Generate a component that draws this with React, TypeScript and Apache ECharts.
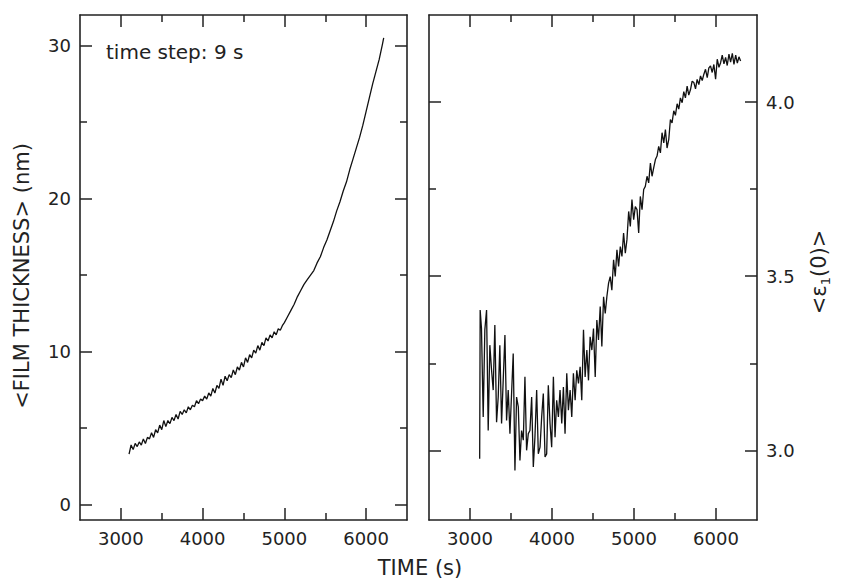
import React, { useEffect, useRef } from "react";
import * as echarts from "echarts";

const leftTime = [
  3100, 3125, 3150, 3175, 3200, 3225, 3250, 3275, 3300, 3325, 3350, 3375, 3400, 3425, 3450, 3475,
  3500, 3525, 3550, 3575, 3600, 3625, 3650, 3675, 3700, 3725, 3750, 3775, 3800, 3825, 3850, 3875,
  3900, 3925, 3950, 3975, 4000, 4025, 4050, 4075, 4100, 4125, 4150, 4175, 4200, 4225, 4250, 4275,
  4300, 4325, 4350, 4375, 4400, 4425, 4450, 4475, 4500, 4525, 4550, 4575, 4600, 4625, 4650, 4675,
  4700, 4725, 4750, 4775, 4800, 4825, 4850, 4875, 4900, 4925, 4950, 4975, 5000,
  5040, 5080, 5120, 5160, 5200, 5240, 5280, 5320, 5360, 5400, 5440, 5480, 5520, 5560, 5600, 5640,
  5680, 5720, 5760, 5800, 5840, 5880, 5920, 5960, 6000, 6040, 6080, 6120, 6160, 6200, 6215,
];
const leftThickness = [
  3.3, 3.9, 3.6, 4.0, 3.8, 4.1, 3.9, 4.3, 4.0, 4.4, 4.3, 4.7, 4.4, 4.9, 4.7, 5.2,
  4.9, 5.5, 5.1, 5.5, 5.3, 5.7, 5.5, 5.9, 5.6, 6.1, 5.9, 6.2, 6.0, 6.4, 6.2, 6.5,
  6.4, 6.8, 6.6, 6.9, 6.8, 7.1, 6.9, 7.3, 7.1, 7.6, 7.3, 7.8, 7.6, 8.2, 7.8, 8.4,
  8.1, 8.5, 8.3, 8.8, 8.5, 9.0, 8.8, 9.3, 9.0, 9.6, 9.3, 9.8, 9.6, 10.1, 9.9, 10.4,
  10.1, 10.6, 10.4, 10.9, 10.7, 11.1, 10.9, 11.3, 11.1, 11.5, 11.4, 11.7, 11.9,
  12.3, 12.7, 13.1, 13.6, 14.0, 14.4, 14.7, 15.0, 15.3, 15.8, 16.2, 16.8, 17.3, 17.9, 18.5, 19.2,
  19.8, 20.5, 21.1, 21.9, 22.6, 23.3, 24.0, 24.8, 25.7, 26.6, 27.5, 28.3, 29.1, 30.1, 30.5,
];

const rightTime = [
  3118, 3124, 3140, 3161, 3181, 3202, 3222, 3242, 3263, 3283, 3303, 3324, 3344, 3364, 3385, 3405,
  3426, 3446, 3466, 3487, 3507, 3527, 3548, 3568, 3589, 3609, 3629, 3650, 3670, 3690, 3711, 3731,
  3752, 3772, 3792, 3813, 3833, 3854, 3874, 3894, 3915, 3935, 3955, 3976, 3996, 4017, 4037, 4057,
  4078, 4098, 4119, 4139, 4159, 4180, 4200, 4221, 4241, 4261, 4282, 4302, 4323, 4343, 4363, 4384,
  4404, 4425, 4445, 4465, 4486, 4506, 4527, 4547, 4567, 4588, 4608, 4629, 4649, 4669, 4690, 4710,
  4730, 4751, 4771, 4792, 4812, 4833, 4853, 4873, 4894, 4914, 4935, 4955, 4975, 4996, 5016, 5037,
  5057, 5077, 5098, 5118, 5138, 5159, 5179, 5200, 5220, 5240, 5261, 5281, 5301, 5322, 5342, 5363,
  5383, 5403, 5424, 5444, 5464, 5485, 5505, 5526, 5546, 5566, 5587, 5607, 5627, 5648, 5668, 5689,
  5709, 5730, 5750, 5770, 5791, 5811, 5832, 5852, 5872, 5893, 5913, 5933, 5954, 5974, 5995, 6015,
  6036, 6056, 6076, 6097, 6117, 6137, 6158, 6178, 6199, 6219, 6240, 6260, 6280, 6300,
];
const rightEps = [
  2.976, 3.403, 3.350, 3.096, 3.346, 3.403, 3.057, 3.302, 3.230, 3.173, 3.360, 3.081, 3.153, 3.302, 3.077, 3.201,
  3.331, 3.086, 3.173, 3.048, 3.163, 3.278, 2.942, 3.153, 3.125, 2.971, 3.057, 3.029, 3.211, 3.000, 3.048, 3.057,
  3.153, 2.952, 3.038, 3.173, 2.990, 3.009, 3.096, 3.163, 2.981, 2.990, 3.187, 3.077, 3.009, 3.211, 3.038, 3.144,
  3.096, 3.173, 3.077, 3.182, 3.048, 3.221, 3.115, 3.173, 3.096, 3.221, 3.144, 3.230, 3.192, 3.240, 3.144, 3.346,
  3.211, 3.288, 3.201, 3.326, 3.288, 3.350, 3.211, 3.374, 3.317, 3.413, 3.298, 3.441, 3.393, 3.441, 3.480, 3.499,
  3.460, 3.547, 3.499, 3.576, 3.528, 3.585, 3.557, 3.624, 3.566, 3.605, 3.686, 3.643, 3.720, 3.662, 3.700, 3.691,
  3.624, 3.729, 3.691, 3.749, 3.758, 3.787, 3.768, 3.825, 3.787, 3.811, 3.835, 3.845, 3.873, 3.854, 3.912, 3.883,
  3.921, 3.868, 3.893, 3.950, 3.940, 3.975, 3.962, 3.995, 3.980, 4.012, 3.998, 4.030, 4.012, 4.046, 4.020, 4.036,
  4.060, 4.056, 4.038, 4.065, 4.050, 4.075, 4.062, 4.080, 4.094, 4.070, 4.098, 4.104, 4.085, 4.108, 4.066, 4.123,
  4.100, 4.113, 4.135, 4.110, 4.128, 4.105, 4.138, 4.115, 4.140, 4.108, 4.135, 4.112, 4.130, 4.118,
];

const xMajorTicks = [3000, 4000, 5000, 6000];
const xMinorTicks = [3500, 4500, 5500];
const thickMajorTicks = [0, 10, 20, 30];
const thickMinorTicks = [5, 15, 25];
const epsMajorTicks = [3.0, 3.5, 4.0];
const epsMinorTicks = [3.25, 3.75];

const FONT = "DejaVu Sans";
const AX = "#222";
const MAJOR_LEN = 12;
const MINOR_LEN = 7;

function xAxisDef(grid: number, position: string, ticks: number[], len: number, showLine: boolean, labels?: number[]) {
  return {
    type: "value",
    gridIndex: grid,
    position,
    min: 2500,
    max: 6500,
    axisLine: { show: showLine, onZero: false, lineStyle: { color: AX, width: 1.6 } },
    axisTick: { show: true, inside: true, length: len, customValues: ticks, lineStyle: { color: AX, width: 1.5 } },
    axisLabel: labels
      ? {
          show: true,
          customValues: labels,
          margin: 9,
          color: "#222",
          fontSize: 18,
          fontFamily: FONT,
          formatter: (v: number) => String(v),
        }
      : { show: false },
    splitLine: { show: false },
  };
}

function yAxisDef(
  grid: number,
  position: string,
  min: number,
  max: number,
  ticks: number[],
  len: number,
  showLine: boolean,
  labels?: number[],
  fmt?: (v: number) => string
) {
  return {
    type: "value",
    gridIndex: grid,
    position,
    min,
    max,
    axisLine: { show: showLine, onZero: false, lineStyle: { color: AX, width: 1.6 } },
    axisTick: { show: true, inside: true, length: len, customValues: ticks, lineStyle: { color: AX, width: 1.5 } },
    axisLabel: labels
      ? { show: true, customValues: labels, margin: 9, color: "#222", fontSize: 18, fontFamily: FONT, formatter: fmt }
      : { show: false },
    splitLine: { show: false },
  };
}

export default function App() {
  const ref = useRef<HTMLDivElement>(null);
  useEffect(() => {
    if (!ref.current) return;
    const chart = echarts.init(ref.current, undefined, { renderer: "svg" });
    const leftData = leftTime.map((t, i) => [t, leftThickness[i]]);
    const rightData = rightTime.map((t, i) => [t, rightEps[i]]);
    const epsFmt = (v: number) => v.toFixed(1);
    const intFmt = (v: number) => String(v);
    chart.setOption({
      animation: false,
      backgroundColor: "#fff",
      grid: [
        { left: 80, top: 15, width: 327, height: 505 },
        { left: 429, top: 15, width: 328, height: 505 },
      ],
      xAxis: [
        xAxisDef(0, "bottom", xMajorTicks, MAJOR_LEN, true, xMajorTicks),
        xAxisDef(0, "bottom", xMinorTicks, MINOR_LEN, false),
        xAxisDef(0, "top", xMajorTicks, MAJOR_LEN, true),
        xAxisDef(0, "top", xMinorTicks, MINOR_LEN, false),
        xAxisDef(1, "bottom", xMajorTicks, MAJOR_LEN, true, xMajorTicks),
        xAxisDef(1, "bottom", xMinorTicks, MINOR_LEN, false),
        xAxisDef(1, "top", xMajorTicks, MAJOR_LEN, true),
        xAxisDef(1, "top", xMinorTicks, MINOR_LEN, false),
      ],
      yAxis: [
        yAxisDef(0, "left", -1, 32, thickMajorTicks, MAJOR_LEN, true, thickMajorTicks, intFmt),
        yAxisDef(0, "left", -1, 32, thickMinorTicks, MINOR_LEN, false),
        yAxisDef(0, "right", -1, 32, thickMajorTicks, MAJOR_LEN, true),
        yAxisDef(0, "right", -1, 32, thickMinorTicks, MINOR_LEN, false),
        yAxisDef(1, "left", 2.8, 4.25, epsMajorTicks, MAJOR_LEN, true),
        yAxisDef(1, "left", 2.8, 4.25, epsMinorTicks, MINOR_LEN, false),
        yAxisDef(1, "right", 2.8, 4.25, epsMajorTicks, MAJOR_LEN, true, epsMajorTicks, epsFmt),
        yAxisDef(1, "right", 2.8, 4.25, epsMinorTicks, MINOR_LEN, false),
      ],
      series: [
        {
          type: "line",
          xAxisIndex: 0,
          yAxisIndex: 0,
          data: leftData,
          showSymbol: false,
          lineStyle: { color: "#111", width: 1.3 },
        },
        {
          type: "line",
          xAxisIndex: 4,
          yAxisIndex: 4,
          data: rightData,
          showSymbol: false,
          lineStyle: { color: "#111", width: 1.3 },
        },
      ],
      graphic: [
        {
          type: "text",
          left: 106,
          top: 42,
          style: { text: "time step: 9 s", fontSize: 20, fontFamily: FONT, fill: "#222" },
        },
        {
          type: "text",
          x: 22,
          y: 276,
          rotation: Math.PI / 2,
          style: {
            text: "<FILM THICKNESS> (nm)",
            fontSize: 21,
            fontFamily: FONT,
            fill: "#222",
            align: "center",
            verticalAlign: "middle",
          },
        },
        {
          type: "text",
          x: 819,
          y: 272,
          rotation: Math.PI / 2,
          style: {
            text: "{a|<ε}{s|1}{a|(0)>}",
            fontFamily: FONT,
            fill: "#222",
            align: "center",
            verticalAlign: "middle",
            rich: {
              a: { fontSize: 21, fontFamily: FONT, fill: "#222", lineHeight: 26, verticalAlign: "middle" },
              s: { fontSize: 13, fontFamily: FONT, fill: "#222", lineHeight: 26, verticalAlign: "bottom" },
            },
          },
        },
        {
          type: "text",
          x: 420,
          y: 568,
          style: {
            text: "TIME (s)",
            fontSize: 21,
            fontFamily: FONT,
            fill: "#222",
            align: "center",
            verticalAlign: "middle",
          },
        },
      ],
    });
    return () => chart.dispose();
  }, []);
  return (
    <div
      ref={ref}
      style={{ position: "fixed", left: 0, top: 0, width: 845, height: 581, background: "#fff" }}
    />
  );
}
